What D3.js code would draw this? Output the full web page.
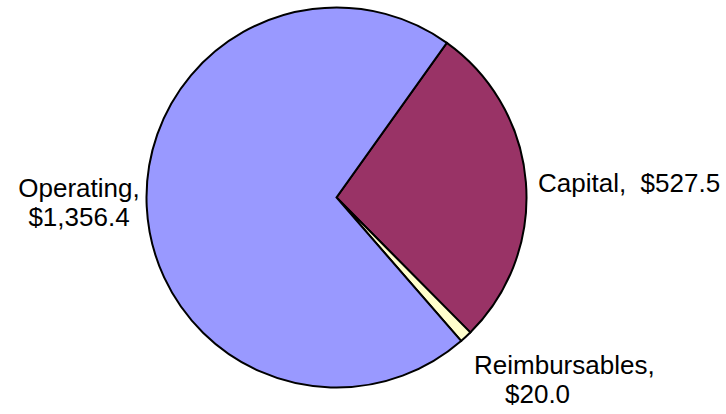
<!DOCTYPE html>
<html>
<head>
<meta charset="utf-8">
<script src="https://cdn.jsdelivr.net/npm/d3@7"></script>
<style>
  html, body { margin: 0; padding: 0; background: #ffffff; }
  svg { display: block; }
  text { font-family: "Liberation Sans", Arial, sans-serif; fill: #000; white-space: pre; }
</style>
</head>
<body>
<svg id="chart" width="726" height="414"></svg>
<script>
const categories = ["Capital", "Reimbursables", "Operating"];
const values = [527.5, 20.0, 1356.4];
const labelLines = [["Capital,  $527.5"], ["Reimbursables,", "$20.0"], ["Operating,", "$1,356.4"]];
const colors = ["#993366", "#FFFFCC", "#9999FF"];

const cx = 336.5, cy = 197.5, R = 190;
const startDeg = 35.5;

const svg = d3.select("#chart");
const data = categories.map((c, i) => ({ name: c, value: values[i], lines: labelLines[i], color: colors[i] }));

const pie = d3.pie().sort(null).value(d => d.value)
  .startAngle(startDeg * Math.PI / 180)
  .endAngle(startDeg * Math.PI / 180 + 2 * Math.PI);
const arc = d3.arc().innerRadius(0).outerRadius(R);
const arcs = pie(data);

const g = svg.append("g").attr("transform", `translate(${cx},${cy})`);
g.selectAll("path").data(arcs).enter().append("path")
  .attr("d", arc)
  .attr("fill", d => d.data.color)
  .attr("stroke", "#000")
  .attr("stroke-width", 2)
  .attr("stroke-linejoin", "miter");

const fontSize = 26;
const lineH = 29;
// label anchor points relative to chart centre: [x, y, anchor, x of 2nd line]
const labelPos = {
  "Capital": [538 - cx, 192 - cy, "start", null],
  "Reimbursables": [474 - cx, 374 - cy, "start", 505 - cx],
  "Operating": [79 - cx, 197 - cy, "middle", null]
};
arcs.forEach(a => {
  const p = labelPos[a.data.name];
  const t = g.append("text")
    .attr("font-size", fontSize)
    .attr("text-anchor", p[2])
    .attr("xml:space", "preserve")
    .attr("x", p[0]).attr("y", p[1]);
  a.data.lines.forEach((ln, i) => {
    t.append("tspan").text(ln)
      .attr("x", (i === 1 && p[3] !== null) ? p[3] : p[0])
      .attr("y", p[1] + i * lineH);
  });
});
</script>
</body>
</html>
